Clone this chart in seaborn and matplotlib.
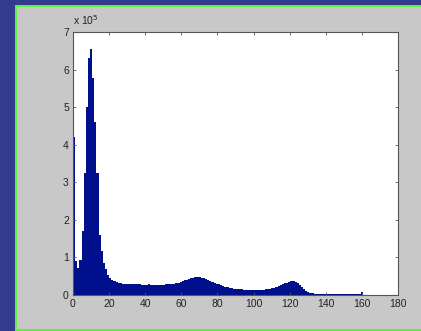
import numpy as np
import pandas as pd
import matplotlib
matplotlib.use("Agg")
import matplotlib.pyplot as plt
import matplotlib.patches as mpatches
import seaborn as sns

# bar heights in units of 1e5, one per histogram bin (bin width ~1.18)
heights = [
    4.20, 0.91, 0.71, 0.93, 1.71, 3.24, 5.01, 6.30, 6.54, 5.77,
    4.61, 3.24, 1.60, 1.18, 0.86, 0.68, 0.53, 0.45, 0.40, 0.36,
    0.34, 0.32, 0.31, 0.30, 0.30, 0.29, 0.29, 0.28, 0.28, 0.28,
    0.28, 0.28, 0.27, 0.27, 0.27, 0.28, 0.27, 0.27, 0.27, 0.27,
    0.27, 0.27, 0.27, 0.28, 0.28, 0.29, 0.29, 0.30, 0.31, 0.33,
    0.35, 0.37, 0.39, 0.41, 0.43, 0.44, 0.46, 0.47, 0.47, 0.47,
    0.46, 0.44, 0.42, 0.40, 0.38, 0.35, 0.33, 0.30, 0.28, 0.26,
    0.24, 0.22, 0.20, 0.19, 0.18, 0.17, 0.16, 0.16, 0.15, 0.15,
    0.14, 0.14, 0.14, 0.13, 0.13, 0.13, 0.13, 0.14, 0.14, 0.14,
    0.15, 0.15, 0.16, 0.18, 0.19, 0.21, 0.24, 0.26, 0.29, 0.31,
    0.33, 0.35, 0.36, 0.36, 0.34, 0.31, 0.26, 0.20, 0.15, 0.11,
    0.08, 0.06, 0.04, 0.03, 0.02, 0.02, 0.02, 0.02, 0.02, 0.02,
    0.02, 0.02, 0.02, 0.02, 0.02, 0.02, 0.02, 0.02, 0.02, 0.02,
    0.02, 0.02, 0.02, 0.02, 0.02, 0.07,
]
x_ticks = [0, 20, 40, 60, 80, 100, 120, 140, 160, 180]
y_ticks = [0, 1, 2, 3, 4, 5, 6, 7]

BIN_W = 1.18
SCALE = 1e5
BAR = "#00108C"
FONT = ["Liberation Sans Narrow", "Liberation Sans", "DejaVu Sans"]

n = len(heights)
df = pd.DataFrame({
    "value": (np.arange(n) + 0.5) * BIN_W,
    "count": np.array(heights) * SCALE,
})

fig = plt.figure(figsize=(4.21, 3.31), dpi=100)
fig.patch.set_facecolor("#323B8E")
W, H = 421, 331
# green outline + grey matlab figure area
fig.patches.append(mpatches.Rectangle((15 / W, 0), 1, (H - 5) / H,
                                      transform=fig.transFigure, facecolor="#5EF040",
                                      edgecolor="none", zorder=-10))
fig.patches.append(mpatches.Rectangle((17 / W, 2 / H), 1, (H - 9) / H,
                                      transform=fig.transFigure, facecolor="#C8C8C8",
                                      edgecolor="none", zorder=-9))

ax = fig.add_axes([73 / W, 36 / H, 325 / W, 263 / H])
ax.set_zorder(5)
ax.set_facecolor("white")

sns.histplot(data=df, x="value", weights="count", binwidth=BIN_W,
             binrange=(0, n * BIN_W), element="step", fill=True,
             color=BAR, alpha=1, linewidth=0, ax=ax)

ax.set_xlim(0, 180)
ax.set_ylim(0, 7 * SCALE)
ax.set_xticks(x_ticks)
ax.set_xticklabels([str(t) for t in x_ticks], family=FONT, fontsize=7.5, color="#222222")
ax.set_yticks([t * SCALE for t in y_ticks])
ax.set_yticklabels([str(t) for t in y_ticks], family=FONT, fontsize=7.5, color="#222222")
ax.set_xlabel("")
ax.set_ylabel("")
ax.tick_params(direction="in", length=2.5, width=0.6, color="#555555",
               top=True, right=True, pad=3)
for s in ax.spines.values():
    s.set_color("#555555")
    s.set_linewidth(0.8)

ax.text(0, 1.018, r"x 10$^5$", transform=ax.transAxes, ha="left", va="bottom",
        family=FONT, fontsize=7.5, color="#222222")

fig.savefig("out.png", dpi=100, facecolor=fig.get_facecolor())
